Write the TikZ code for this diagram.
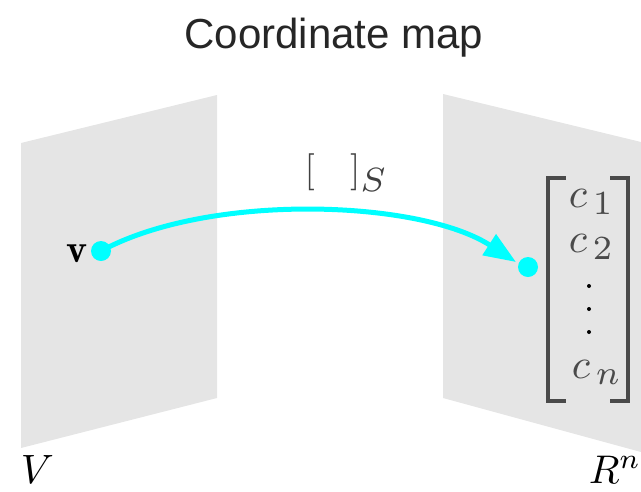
\documentclass[tikz,border=0pt]{standalone}
\usepackage{fontspec}
\newfontfamily\titlefont{Liberation Sans}
\usetikzlibrary{arrows.meta}
\definecolor{panel}{HTML}{E5E5E5}
\definecolor{ink}{HTML}{4A4A4A}
\definecolor{arrowcyan}{HTML}{00FFFF}
\tikzset{
  panelfill/.style={fill=panel,draw=none},
  dot/.style={circle,fill=arrowcyan,draw=none,minimum size=20pt,inner sep=0pt},
  smalldot/.style={circle,fill=black,draw=none,minimum size=4pt,inner sep=0pt},
  maplabel/.style={inner sep=0pt,text=black},
  bracketline/.style={draw=ink,line width=3.5pt},
  mapline/.style={draw=arrowcyan,line width=5pt,-{Triangle[length=32pt,width=24pt]}}
}
\begin{document}
\begin{tikzpicture}[x=1pt,y=-1pt]
\useasboundingbox (0,0) rectangle (641,491);
% panels
\fill[panelfill] (21,143) -- (217,95) -- (217,398) -- (21,448) -- cycle;
\fill[panelfill] (443,94) -- (641,142) -- (641,452) -- (443,398) -- cycle;
% title
\node[maplabel,anchor=base,text=black!85,scale=4.2] (title) at (334,48) {\titlefont Coordinate map};
% labels
\node[maplabel,anchor=base west,scale=4.1] (Vlab) at (20,483) {$V$};
\node[maplabel,anchor=base west,scale=4.0] (Rlab) at (588,483) {$R^{n}$};
\node[maplabel,anchor=base east,scale=4] (vlab) at (88,262) {$\mathbf{v}$};
\node[maplabel,anchor=base west,scale=3.7,text=black!75] (coord) at (304,181) {$[\hspace{0.95em}]_{\scalebox{1.3}{$\scriptstyle S$}}$};
% dots and arrow
\node[dot] (v) at (101,251) {};
\node[dot] (w) at (528,267) {};
\coordinate (tip) at (516,262);
\draw[mapline] (v.center) .. controls (210,192) and (420,200) .. (tip);
% column vector
\draw[bracketline] (566,178) -- (548,178) -- (548,401) -- (566,401);
\draw[bracketline] (610,178) -- (628,178) -- (628,401) -- (610,401);
\node[maplabel,anchor=base west,scale=4.2,text=ink] (c1) at (568,207) {$c_{\,\scalebox{1.15}{$\scriptstyle 1$}}$};
\node[maplabel,anchor=base west,scale=4.2,text=ink] (c2) at (568,252) {$c_{\,\scalebox{1.15}{$\scriptstyle 2$}}$};
\node[maplabel,anchor=base west,scale=4.2,text=ink] (cn) at (571,378) {$c_{\,\scalebox{1.15}{$\scriptstyle n$}}$};
\node[smalldot] (d1) at (589,286) {};
\node[smalldot] (d2) at (589,309) {};
\node[smalldot] (d3) at (589,332) {};
\end{tikzpicture}
\end{document}
